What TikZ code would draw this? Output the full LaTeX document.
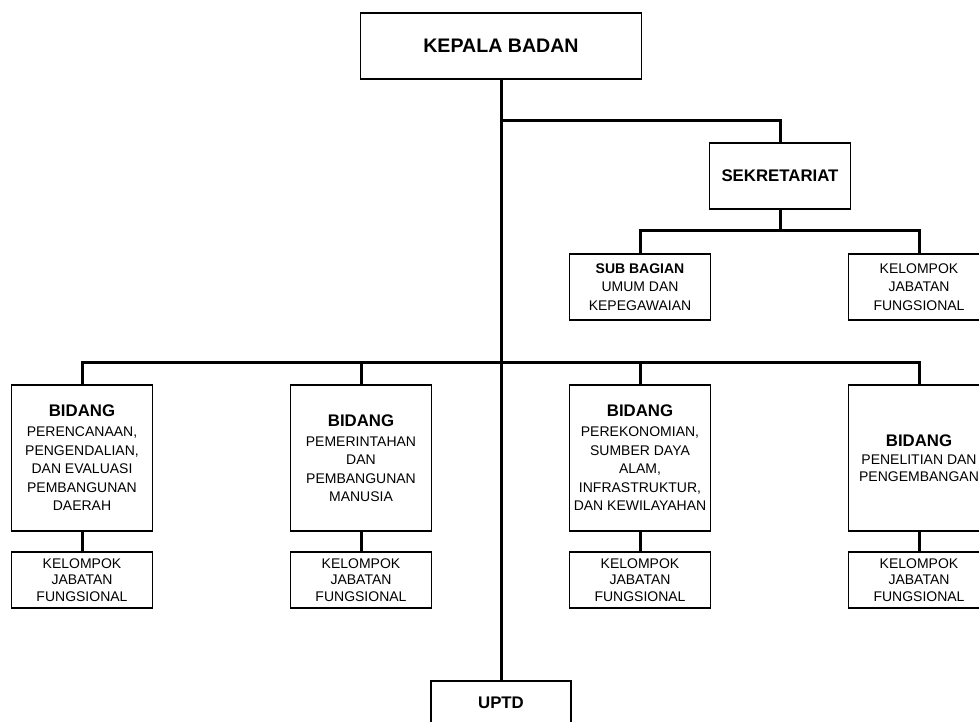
\documentclass[tikz,border=0pt]{standalone}
\usepackage{fontspec}
\setmainfont{Liberation Sans}
\usepackage{tikz}
\usetikzlibrary{shapes, positioning}
\tikzstyle{kepalabox} = [rectangle, draw, line width=1.9pt, text centered, minimum width=281pt, minimum height=66pt, font=\bfseries\fontsize{19.6}{23}\selectfont]
\tikzstyle{unitbox} = [rectangle, draw, line width=1.9pt, align=center, inner xsep=1pt, minimum width=141pt, minimum height=66pt, font=\fontsize{14}{18.5}\selectfont]
\tikzstyle{bidangbox} = [unitbox, minimum height=146pt]
\tikzstyle{kelompokbox} = [unitbox, minimum height=56pt, font=\fontsize{14}{16.2}\selectfont]
\tikzstyle{line} = [line width=3pt]
\newcommand{\judul}[1]{{\bfseries\fontsize{16.8}{20}\selectfont #1}}

\begin{document}
\begin{tikzpicture}[x=1pt, y=1pt, node distance=279pt]
    \useasboundingbox (0,0) rectangle (979,721);
    \clip (0,0) rectangle (979,721);
    \node(kepala)[kepalabox] at (501,675){KEPALA BADAN};
    \node(sekre)[unitbox, font=\bfseries\fontsize{16.8}{20}\selectfont] at (780,545){SEKRETARIAT};
    \node(subbag)[unitbox] at (640,434){\textbf{SUB BAGIAN}\\UMUM DAN\\KEPEGAWAIAN};
    \node(kelsek)[unitbox, right of=subbag]{KELOMPOK\\JABATAN\\FUNGSIONAL};
    \node(bid1)[bidangbox] at (82,263){\judul{BIDANG}\\[1.5pt]PERENCANAAN,\\PENGENDALIAN,\\DAN EVALUASI\\PEMBANGUNAN\\DAERAH};
    \node(bid2)[bidangbox, right of=bid1]{\judul{BIDANG}\\[1.5pt]PEMERINTAHAN\\DAN\\PEMBANGUNAN\\MANUSIA};
    \node(bid3)[bidangbox, right of=bid2]{\judul{BIDANG}\\[1.5pt]PEREKONOMIAN,\\SUMBER DAYA\\ALAM,\\INFRASTRUKTUR,\\DAN KEWILAYAHAN};
    \node(bid4)[bidangbox, right of=bid3]{\judul{BIDANG}\\PENELITIAN DAN\\[-2pt]PENGEMBANGAN};
    \node(kel1)[kelompokbox, below of=bid1, node distance=122pt]{KELOMPOK\\JABATAN\\FUNGSIONAL};
    \node(kel2)[kelompokbox, below of=bid2, node distance=122pt]{KELOMPOK\\JABATAN\\FUNGSIONAL};
    \node(kel3)[kelompokbox, below of=bid3, node distance=122pt]{KELOMPOK\\JABATAN\\FUNGSIONAL};
    \node(kel4)[kelompokbox, below of=bid4, node distance=122pt]{KELOMPOK\\JABATAN\\FUNGSIONAL};
    \node(uptd)[unitbox, minimum width=140pt, minimum height=44pt, font=\bfseries\fontsize{16.8}{20}\selectfont] at (501,18){UPTD};
    \coordinate (sekjoin) at (501,600);
    \coordinate (sekfork) at (780,490);
    \coordinate (bidfork) at (501,358);
    \draw [line] (kepala) -- (uptd);
    \draw [line] (sekjoin) -| (sekre);
    \draw [line] (sekre) -- (sekfork);
    \draw [line] (subbag) |- (sekfork) -| (kelsek);
    \draw [line] (bid1) |- (bidfork) -| (bid4);
    \draw [line] (bidfork) -| (bid2);
    \draw [line] (bidfork) -| (bid3);
    \draw [line] (bid1) -- (kel1);
    \draw [line] (bid2) -- (kel2);
    \draw [line] (bid3) -- (kel3);
    \draw [line] (bid4) -- (kel4);
\end{tikzpicture}
\end{document}
